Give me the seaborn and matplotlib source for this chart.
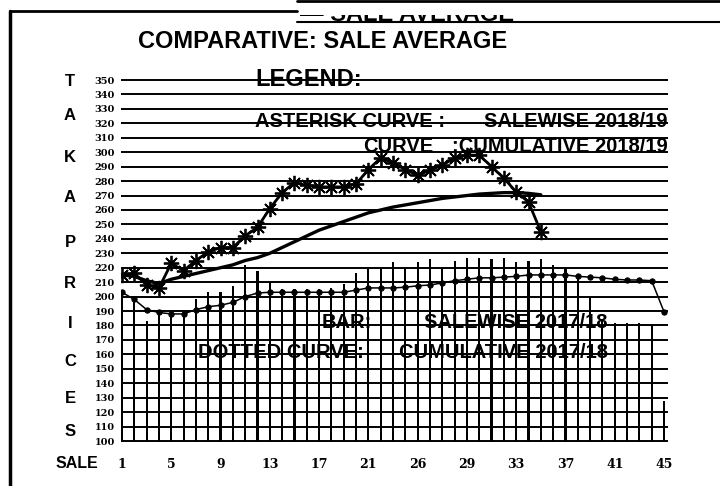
import matplotlib
matplotlib.use("Agg")
import matplotlib.pyplot as plt
from matplotlib.lines import Line2D
from matplotlib.transforms import Bbox, TransformedBbox
import pandas as pd
import seaborn as sns

# sale numbers
sales_2017 = list(range(1, 46))
sales_2018 = list(range(1, 36))

# BAR: salewise 2017/18 (taka)
bar_salewise_2017 = [203, 196, 183, 187, 186, 189, 198, 203, 203, 207,
                     222, 218, 210, 205, 205, 205, 205, 206, 209, 216,
                     219, 219, 224, 220, 224, 226, 220, 225, 227, 227,
                     226, 227, 224, 225, 226, 222, 220, 214, 200, 184,
                     182, 182, 182, 180, 128]

# DOTTED CURVE: cumulative 2017/18
dotted_cumulative_2017 = [203, 198, 191, 189, 188, 188, 191, 193, 194, 196,
                          200, 202.5, 203, 203, 203, 203, 203, 203, 203, 204.5,
                          206, 206, 206, 206.5, 207.5, 208, 209.5, 211, 212, 213,
                          213, 213.5, 214, 215, 215, 215, 215, 214, 213.5, 213,
                          212, 211.5, 211.5, 211, 189.5]

# ASTERISK CURVE: salewise 2018/19
asterisk_salewise_2018 = [215, 216, 208, 206, 223, 218, 225, 231, 234, 234,
                          242, 248, 261, 272, 279, 277, 276, 276, 276, 278,
                          288, 296, 292.5, 288, 284, 287.5, 291, 296, 298, 298,
                          290, 282, 272.5, 265.5, 245]

# CURVE: cumulative 2018/19
curve_cumulative_2018 = [215, 214, 211, 209, 212, 214, 216, 218, 220, 222,
                         225, 227, 230, 234, 238, 242, 246, 249, 252, 255,
                         258, 260, 262, 263.5, 265, 266.5, 268, 269, 270, 271,
                         271.5, 272, 272, 271.5, 270.5]

y_ticks = list(range(100, 351, 10))
x_ticks = [1, 5, 9, 13, 17, 21, 25, 29, 33, 37, 41, 45]
x_tick_labels = ["1", "5", "9", "13", "17", "21", "26", "29", "33", "37", "41", "45"]
side_letters = ["T", "A", "K", "A", "P", "R", "I", "C", "E", "S"]

sns.set_theme(style="white")
plt.rcParams['font.family'] = ['Liberation Sans', 'DejaVu Sans']
plt.rcParams['text.color'] = 'black'
plt.rcParams['xtick.color'] = 'black'
plt.rcParams['ytick.color'] = 'black'

W, H = 720, 486


def fx(x):
    return x / W


def fy(y):
    return 1 - y / H


fig = plt.figure(figsize=(7.2, 4.86), dpi=100)

# axes placed so that sale 1 -> x=122 px, sale 45 -> 664 px, 100 -> y=441, 350 -> y=80
px_per_sale = 542 / 44
px_per_unit = 361 / 250
x0, x1 = 0.9, 45.32
y0, y1 = 99, 351
left = 122 - (1 - x0) * px_per_sale
right = 122 + (x1 - 1) * px_per_sale
bottom = 441 + (100 - y0) * px_per_unit
top = 80 - (y1 - 350) * px_per_unit
ax = fig.add_axes([fx(left), fy(bottom), (right - left) / W, (bottom - top) / H])

df17 = pd.DataFrame({"sale": sales_2017, "bar": bar_salewise_2017,
                     "cum": dotted_cumulative_2017})
df18 = pd.DataFrame({"sale": sales_2018, "salewise": asterisk_salewise_2018,
                     "cum": curve_cumulative_2018})

# thin black bars, one per sale
sns.barplot(data=df17, x="sale", y="bar", native_scale=True, width=0.17,
            color="black", saturation=1, errorbar=None, linewidth=0, ax=ax)

# dotted cumulative 2017/18
sns.lineplot(data=df17, x="sale", y="cum", color="black", lw=1.1,
             marker="o", markersize=3.8, markeredgecolor="black", ax=ax)

# cumulative 2018/19
sns.lineplot(data=df18, x="sale", y="cum", color="black", lw=2.4, ax=ax)

# salewise 2018/19 with asterisks
sns.lineplot(data=df18, x="sale", y="salewise", color="black", lw=2,
             marker=(8, 2, 0), markersize=11, markeredgewidth=1.3,
             markeredgecolor="black", ax=ax)

ax.set_xlim(x0, x1)
ax.set_ylim(y0, y1)
ax.set_yticks(y_ticks)
ax.set_xticks(x_ticks, x_tick_labels)
ax.grid(axis="y", color="black", lw=1.4)
ax.grid(axis="x", visible=False)
for s in ax.spines.values():
    s.set_visible(False)
ax.set_xlabel("")
ax.set_ylabel("")
ax.tick_params(axis="y", length=0, pad=4.3)
ax.tick_params(axis="x", length=0, pad=11.5)
for lbl in ax.get_yticklabels():
    lbl.set_fontfamily("DejaVu Serif")
    lbl.set_fontweight("bold")
    lbl.set_fontsize(7)
for lbl in ax.get_xticklabels():
    lbl.set_fontfamily("DejaVu Serif")
    lbl.set_fontweight("bold")
    lbl.set_fontsize(9)

# titles and legend text
fig.text(fx(323), fy(42), "COMPARATIVE: SALE AVERAGE", ha="center", va="center",
         fontsize=17, fontweight="bold")
fig.text(fx(255), fy(80), "LEGEND:", ha="left", va="center", fontsize=17, fontweight="bold")
fig.text(fx(255), fy(121), "ASTERISK CURVE :", ha="left", va="center",
         fontsize=14.5, fontweight="bold")
fig.text(fx(668), fy(121), "SALEWISE 2018/19", ha="right", va="center",
         fontsize=14.5, fontweight="bold")
fig.text(fx(363), fy(147), "CURVE", ha="left", va="center", fontsize=14.5, fontweight="bold")
fig.text(fx(668), fy(147), ":CUMULATIVE 2018/19", ha="right", va="center",
         fontsize=14.5, fontweight="bold")
fig.text(fx(322), fy(322), "BAR:", ha="left", va="center", fontsize=14.5, fontweight="bold")
fig.text(fx(608), fy(322), "SALEWISE 2017/18", ha="right", va="center",
         fontsize=14.5, fontweight="bold")
fig.text(fx(198), fy(352), "DOTTED CURVE:", ha="left", va="center",
         fontsize=14.5, fontweight="bold")
fig.text(fx(608), fy(352), "CUMULATIVE 2017/18", ha="right", va="center",
         fontsize=14.5, fontweight="bold")

# vertical axis caption, one letter per line
letter_y = [82, 116, 157, 197, 242, 283, 324, 361, 398, 432]
for letter, yy in zip(side_letters, letter_y):
    fig.text(fx(70), fy(yy), letter, ha="center", va="center", fontsize=12, fontweight="bold")
fig.text(fx(77), fy(463), "SALE", ha="center", va="center", fontsize=11.5, fontweight="bold")

# page frame and the cut-off heading at the top of the scan (only its lower edge shows)
cut = fig.text(fx(300), fy(21), "\u2014 SALE AVERAGE", ha="left", va="baseline",
               fontsize=17, fontweight="bold")
cut.set_clip_box(TransformedBbox(Bbox([[fx(280), fy(23)], [fx(540), fy(15)]]),
                                 fig.transFigure))
cut.set_clip_on(True)
fig.add_artist(Line2D([fx(10), fx(10)], [fy(11), fy(486)], color="black", lw=2.5))
fig.add_artist(Line2D([fx(10), fx(297)], [fy(11), fy(11)], color="black", lw=2))
fig.add_artist(Line2D([fx(297), fx(720)], [fy(22), fy(22)], color="black", lw=1.5))
fig.add_artist(Line2D([fx(297), fx(720)], [fy(1.5), fy(1.5)], color="black", lw=2))

fig.savefig("out.png", dpi=100)
